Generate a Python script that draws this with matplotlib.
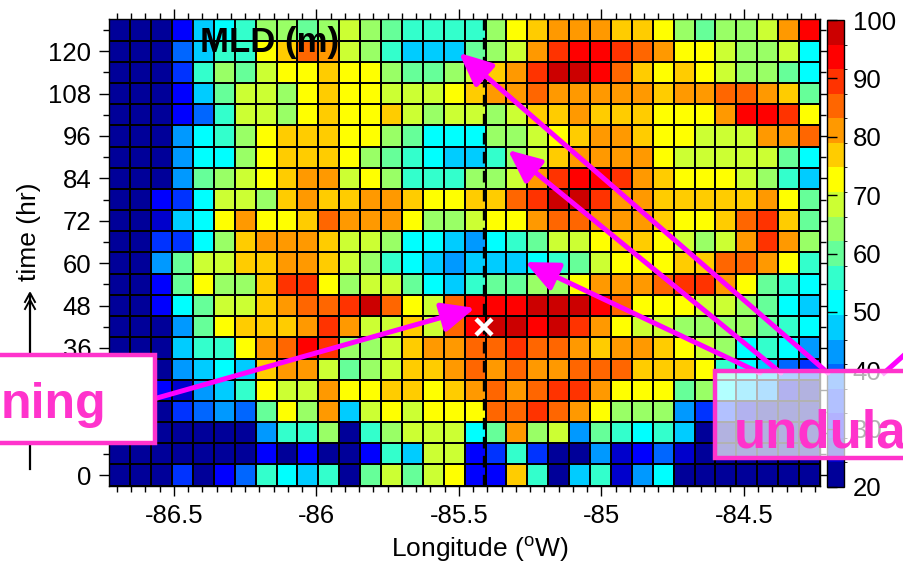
import numpy as np
import matplotlib
matplotlib.use('Agg')
import matplotlib.pyplot as plt
from matplotlib.colors import ListedColormap, BoundaryNorm
from matplotlib.patches import Rectangle
from matplotlib.lines import Line2D
from matplotlib.ticker import MultipleLocator

plt.rcParams['font.family'] = ['Liberation Sans', 'DejaVu Sans']

# ---- grid ----
lon_min, lon_max = -86.727, -84.233
n_lon = 34
time_hr = [0, 6, 12, 18, 24, 30, 36, 42, 48, 54, 60, 66, 72, 78, 84, 90, 96, 102, 108, 114, 120, 126]

# ---- MLD (m), one row per time, west -> east ----
mld_000h = [22,22,22,35,22,30,39,56,52,47,56,22,60,68,60,68,73,30,30,77,56,22,47,56,26,43,52,22,22,22,22,22,22,22]
mld_006h = [22,22,22,22,22,22,22,30,22,30,22,22,30,56,47,68,68,30,35,56,35,22,22,43,26,30,39,26,22,22,22,22,22,22]
mld_012h = [22,22,22,22,22,22,22,43,56,56,64,22,56,64,68,68,68,52,60,81,64,68,43,60,56,52,56,47,22,22,22,22,22,22]
mld_018h = [22,22,22,35,39,43,39,60,73,64,81,47,68,73,68,73,73,73,85,85,89,85,81,73,64,64,64,43,35,35,26,22,22,22]
mld_024h = [22,22,30,26,43,47,56,73,68,68,81,73,73,77,77,73,77,81,85,81,85,89,89,81,73,73,73,60,64,52,47,43,26,22]
mld_030h = [22,22,22,43,47,52,47,77,81,81,68,60,64,68,77,77,81,85,81,85,81,81,85,85,85,77,77,77,73,56,52,47,39,35]
mld_036h = [22,22,22,47,56,56,73,81,85,94,89,64,64,68,77,81,81,85,85,89,85,85,81,77,81,81,77,73,68,64,52,56,52,43]
mld_042h = [22,22,22,43,60,73,77,77,77,81,89,81,68,68,77,68,85,94,98,98,94,98,89,81,73,68,68,64,64,64,64,60,56,52]
mld_048h = [22,22,30,52,60,68,68,77,81,85,85,89,98,85,73,68,85,94,94,94,98,98,98,94,85,73,73,73,68,68,64,60,52,47]
mld_054h = [22,22,30,60,73,64,64,77,89,89,73,64,68,68,60,52,47,56,60,60,64,64,73,81,81,81,85,89,89,81,73,60,56,52]
mld_060h = [22,22,43,60,68,68,77,77,81,81,77,68,64,56,52,47,43,47,47,47,52,56,60,68,73,73,73,77,77,85,85,81,73,56]
mld_066h = [22,22,35,35,52,64,77,81,81,81,77,68,68,64,52,52,47,43,52,56,60,68,68,73,77,77,73,68,64,68,81,89,81,64]
mld_072h = [22,22,26,47,52,73,81,73,73,77,85,81,81,81,73,64,64,68,73,73,81,85,85,81,81,81,77,73,73,77,85,89,77,60]
mld_078h = [22,22,30,35,52,68,68,64,77,81,77,77,81,81,77,73,73,77,77,85,89,98,98,89,81,81,77,77,77,77,77,81,73,60]
mld_084h = [22,22,22,43,60,64,68,73,77,81,81,68,73,64,56,56,56,64,64,68,81,89,94,94,89,81,77,73,73,73,68,64,56,47]
mld_090h = [22,22,22,43,52,52,64,73,77,77,77,73,64,60,56,52,47,47,56,64,68,77,81,81,81,81,73,68,68,68,68,68,60,52]
mld_096h = [22,22,22,43,52,56,64,73,77,77,77,73,73,64,60,52,52,52,64,64,68,73,77,81,81,77,73,73,68,68,68,81,81,85]
mld_102h = [22,22,22,30,39,56,68,68,64,73,77,73,73,77,68,64,68,68,64,68,77,77,81,77,77,77,73,73,73,81,94,94,89,73]
mld_108h = [22,22,22,30,47,60,68,68,64,73,77,73,73,68,68,68,73,77,81,81,85,81,81,81,81,81,77,81,81,85,85,81,77,60]
mld_114h = [22,22,22,35,56,64,60,68,73,73,77,73,73,64,60,60,64,68,77,81,89,98,98,94,85,77,73,77,73,68,64,64,60,52]
mld_120h = [22,22,22,39,47,56,56,73,77,85,81,68,64,56,47,47,47,60,64,68,81,89,94,94,89,85,81,73,73,68,64,64,68,52]
mld_126h = [22,22,22,30,47,52,56,64,64,60,64,68,64,60,56,56,56,56,64,73,77,81,81,81,77,77,73,64,60,64,64,68,81,94]

mld = np.array([mld_000h, mld_006h, mld_012h, mld_018h, mld_024h, mld_030h, mld_036h,
                mld_042h, mld_048h, mld_054h, mld_060h, mld_066h, mld_072h, mld_078h,
                mld_084h, mld_090h, mld_096h, mld_102h, mld_108h, mld_114h, mld_120h,
                mld_126h], dtype=float)

# colour scale
level_colors = ['#000099', '#0000cc', '#0000ff', '#0033ff', '#0066ff', '#0099ff', '#00ccff',
                '#00ffff', '#33ffcc', '#66ff99', '#99ff66', '#ccff33', '#ffff00', '#ffcc00',
                '#ff9900', '#ff6600', '#ff3300', '#ff0000', '#cc0000']
cbar_ticks = [20, 30, 40, 50, 60, 70, 80, 90, 100]
x_ticks = [-86.5, -86.0, -85.5, -85.0, -84.5]
x_ticklabels = ['-86.5', '-86', '-85.5', '-85', '-84.5']
y_ticks = [0, 12, 24, 36, 48, 60, 72, 84, 96, 108, 120]

# float location (dashed line) and marker
float_lon = -85.412
float_time = 42

# annotation arrow targets (lon, hr)
deep_target = (-85.444, 47.3)
und_targets = [(-85.500, 119.5), (-85.328, 92.0), (-85.268, 60.3)]

W, H = 904, 577
fig = plt.figure(figsize=(W / 100, H / 100), dpi=100)
ax = fig.add_axes([109.3 / W, 1 - 485.7 / H, (820 - 109.3) / W, (485.7 - 19.3) / H])

cmap = ListedColormap(level_colors)
bounds = np.linspace(20, 100, len(level_colors) + 1)
norm = BoundaryNorm(bounds, cmap.N)

lon_edges = np.linspace(lon_min, lon_max, n_lon + 1)
t_arr = np.array(time_hr, dtype=float)
t_edges = np.concatenate([t_arr - 3, [t_arr[-1] + 3]])
mesh = ax.pcolormesh(lon_edges, t_edges, mld, cmap=cmap, norm=norm,
                     edgecolors='black', linewidth=1.15)
ax.set_xlim(lon_min, lon_max)
ax.set_ylim(t_edges[0], t_edges[-1])

ax.set_xticks(x_ticks)
ax.set_xticklabels(x_ticklabels)
ax.xaxis.set_minor_locator(MultipleLocator(0.05))
ax.set_yticks(y_ticks)
ax.yaxis.set_minor_locator(MultipleLocator(6))
ax.tick_params(which='both', direction='out', top=True, right=True, labelsize=18.5, width=1)
ax.tick_params(which='major', length=7, pad=6)
ax.tick_params(which='minor', length=4)
for s in ax.spines.values():
    s.set_linewidth(1.0)

ax.set_xlabel('Longitude ($^{\\mathregular{o}}$W)', fontsize=19)
ax.xaxis.set_label_coords((480 - 109.3) / (820 - 109.3), -0.105)

ax.axvline(float_lon, color='black', lw=2.4, ls=(0, (3.5, 2.2)), zorder=4)
ax.plot([float_lon], [float_time], marker='x', color='white', markersize=12, mew=3.2, zorder=6)

ax.text((200 - 109.3) / (820 - 109.3), 0.985, 'MLD (m)', transform=ax.transAxes, fontsize=25,
        fontweight='bold', ha='left', va='top', zorder=7)

# colorbar
cax = fig.add_axes([826.7 / W, 1 - 487 / H, 17.5 / W, 467 / H])
cb = fig.colorbar(mesh, cax=cax, ticks=cbar_ticks)
cb.outline.set_linewidth(1.0)
cax.tick_params(left=True, right=False, labelleft=False, labelright=True,
                direction='in', length=7, width=1, labelsize=18.5, pad=6)

# y label with arrow
fig.text(29 / W, 1 - 232 / H, 'time (hr)', rotation=90, fontsize=19, ha='center', va='center')

# overlay for annotations (pixel coordinates, y down)
ov = fig.add_axes([0, 0, 1, 1], zorder=10)
ov.set_xlim(0, W)
ov.set_ylim(H, 0)
ov.axis('off')
ov.patch.set_alpha(0)

ov.add_line(Line2D([30, 30], [469, 294], color='black', lw=1.6))
ov.add_line(Line2D([25, 30, 35], [302, 293, 302], color='black', lw=1.4))
ov.add_line(Line2D([25, 30, 35], [309, 300, 309], color='black', lw=1.4))

arrow_color = '#ff00ff'
pink = '#ff33cc'
astyle = dict(arrowstyle='-|>,head_length=1.0,head_width=0.45', color=arrow_color,
              lw=3.6, mutation_scale=20, shrinkA=0, shrinkB=0)

ov.annotate('', xy=deep_target, xycoords=ax.transData, xytext=(150, 400),
            textcoords='data', arrowprops=astyle, annotation_clip=False)
for tgt, tail in zip(und_targets, [(828, 373), (781, 373), (760, 373)]):
    ov.annotate('', xy=tgt, xycoords=ax.transData, xytext=tail,
                textcoords='data', arrowprops=astyle, annotation_clip=False)
ov.add_line(Line2D([884, 912], [373, 348], color=arrow_color, lw=3.6))

ov.add_patch(Rectangle((-10, 355), 165, 88, facecolor='white', edgecolor=pink, lw=3.2, zorder=12))
ov.text(106, 418, 'ning', color=pink, fontsize=36, fontweight='bold', ha='right',
        va='baseline', zorder=13)

ov.add_patch(Rectangle((715, 371), 220, 87, facecolor=(1, 1, 1, 0.7), edgecolor=pink, lw=3.2,
                       zorder=12))
ov.text(734, 447, 'undula', color=pink, fontsize=38, fontweight='bold', ha='left',
        va='baseline', zorder=13)

fig.savefig('out.png', dpi=100)
